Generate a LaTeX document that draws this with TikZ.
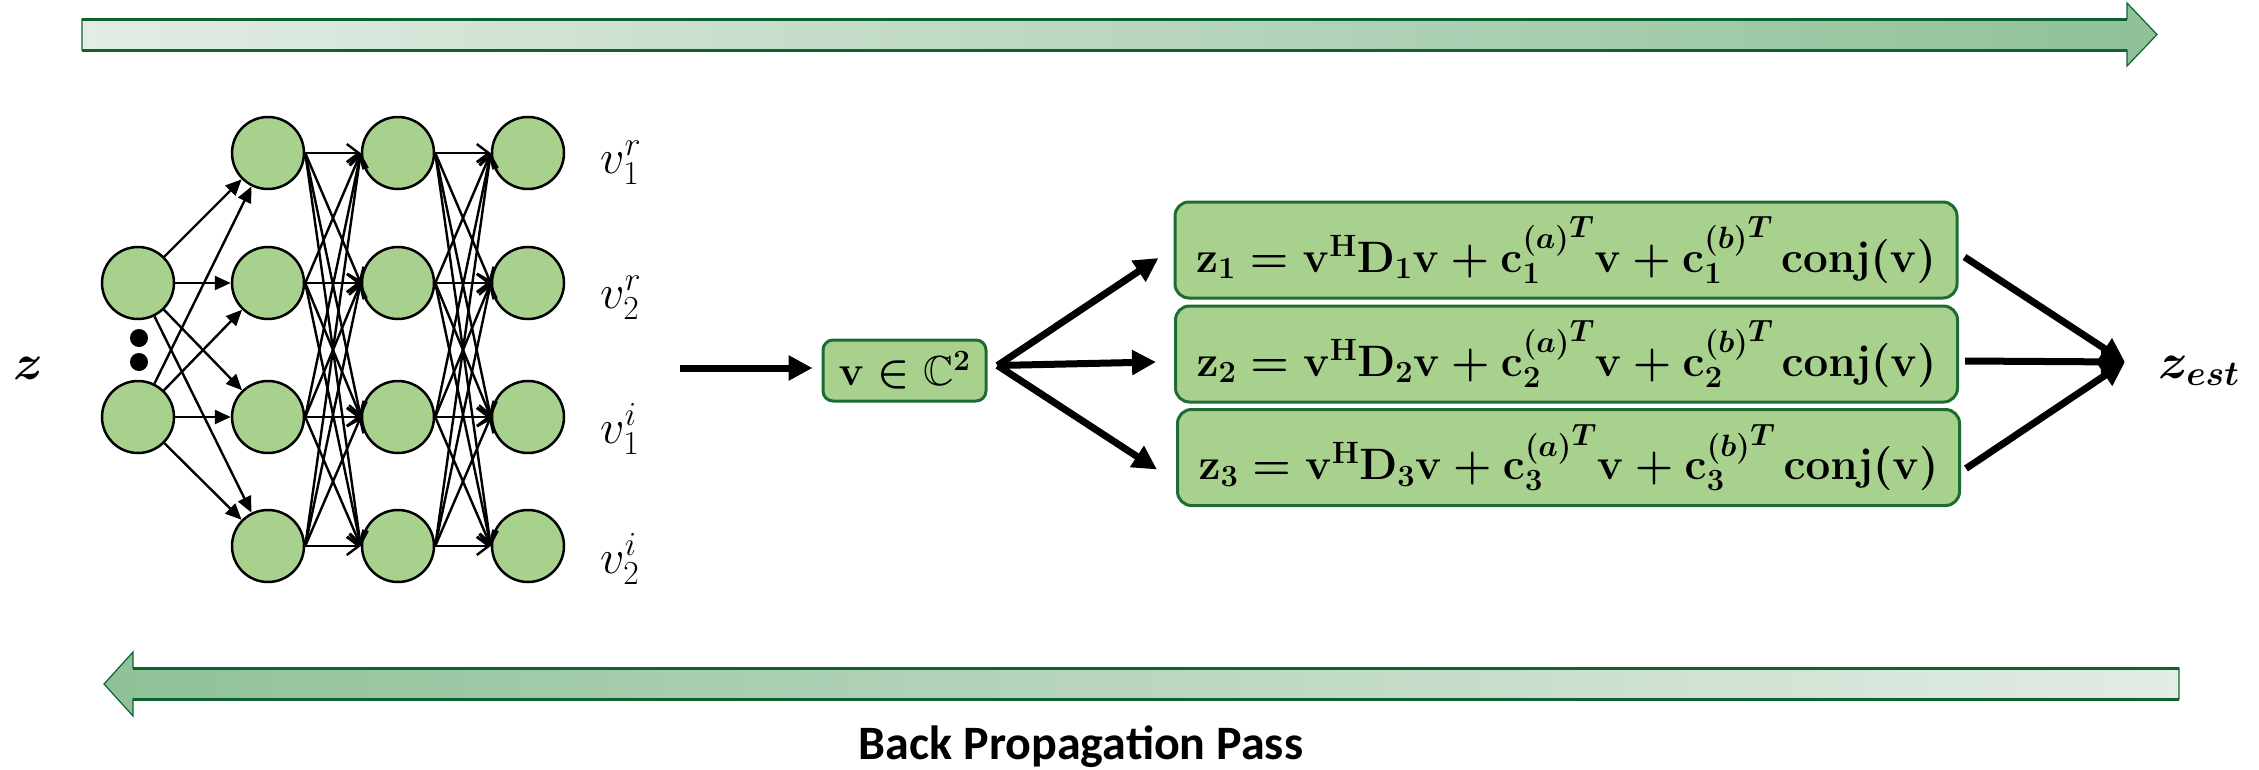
\RequirePackage{fix-cm}
\documentclass[tikz,border=0pt]{standalone}
\usepackage{amsmath,amssymb}
\usepackage[no-math]{fontspec}
\newfontfamily\captionfont{Carlito}
\usetikzlibrary{arrows.meta,calc}

\definecolor{nodegreen}{HTML}{A9D18E}
\definecolor{boxedge}{HTML}{1E6B33}
\definecolor{arrowedge}{HTML}{0E6230}
\definecolor{shadelight}{HTML}{E3ECE5}
\definecolor{shadedark}{HTML}{8FC198}

% one output component of the quadratic model
\newcommand{\quadform}[1]{$\mathbf{z}_{#1}=\mathbf{v}^{\mathrm{H}}\mathbf{D}_{#1}\mathbf{v}+{\mathbf{c}_{#1}^{(a)}}^{T}\mathbf{v}+{\mathbf{c}_{#1}^{(b)}}^{T}\,\mathrm{conj}(\mathbf{v})$}

\tikzset{
  neuron/.style={circle, draw=black, line width=2.5pt, fill=nodegreen,
    minimum size=72pt, inner sep=0pt},
  dotmark/.style={circle, fill=black, minimum size=18pt, inner sep=0pt},
  formbox/.style={draw=boxedge, line width=3pt, fill=nodegreen,
    rounded corners=14pt, minimum width=782pt, minimum height=96pt, inner sep=0pt,
    font=\boldmath\fontsize{44}{48}\selectfont},
  solidedge/.style={line width=2.4pt, -{Triangle[length=16pt,width=14pt]}},
  openedge/.style={line width=2.4pt, -{Straight Barb[length=12pt,width=18pt,line width=2.4pt]}},
  bigarrow/.style={line width=7pt, -{Triangle[length=24pt,width=24pt]}},
  outlabel/.style={anchor=base west, font=\fontsize{48}{52}\selectfont},
  bigsym/.style={font=\boldmath\fontsize{50}{54}\selectfont},
  passedge/.style={draw=arrowedge, line width=1.2pt, line join=miter},
  passrim/.style={draw=arrowedge, line width=3pt},
}

\begin{document}
\begin{tikzpicture}[x=1pt,y=-1pt]
\useasboundingbox (0,0) rectangle (2259,769);

% forward pass arrow
\shade[left color=shadelight, right color=shadedark]
  (82,19) -- (2127,19) -- (2127,3) -- (2157,34.5) -- (2127,66) -- (2127,50) -- (82,50) -- cycle;
\path[passedge] (82,19) -- (2127,19) -- (2127,3) -- (2157,34.5) -- (2127,66) -- (2127,50) -- (82,50) -- cycle;
\path[passrim] (82,19) -- (2127,19) (82,50) -- (2127,50);

% backward pass arrow
\shade[left color=shadedark, right color=shadelight]
  (2179,668) -- (133,668) -- (133,652) -- (104,684) -- (133,716) -- (133,699) -- (2179,699) -- cycle;
\path[passedge] (2179,668) -- (133,668) -- (133,652) -- (104,684) -- (133,716) -- (133,699) -- (2179,699) -- cycle;
\path[passrim] (2179,668) -- (133,668) (2179,699) -- (133,699);
\node[anchor=base, font=\captionfont\bfseries\fontsize{48}{52}\selectfont] (backpass) at (1081,759) {Back Propagation Pass};

% input
\node[bigsym] (zin) at (28,368) {$z$};

% network
\node[neuron] (i1) at (138,283) {};
\node[neuron] (i2) at (138,417) {};
\node[dotmark] (d1) at (139,338) {};
\node[dotmark] (d2) at (139,362) {};
\foreach \c/\x in {a/268,b/398,c/528}
  \foreach \r/\y in {1/153,2/283,3/417,4/546}
    \node[neuron] (\c\r) at (\x,\y) {};

\foreach \s in {i1,i2}
  \foreach \r in {1,...,4}
    \draw[solidedge] (\s) -- (a\r);
\foreach \s in {1,...,4}
  \foreach \t in {1,...,4} {
    \draw[openedge] (a\s.east) -- (b\t.west);
    \draw[openedge] (b\s.east) -- (c\t.west);
  }

\node[outlabel] (o1) at (597,173) {$v_1^r$};
\node[outlabel] (o2) at (597,308) {$v_2^r$};
\node[outlabel] (o3) at (597,443) {$v_1^i$};
\node[outlabel] (o4) at (597,573) {$v_2^i$};

% latent vector
\node[formbox, minimum width=163pt, minimum height=61pt, rounded corners=10pt,
  font=\boldmath\fontsize{42}{46}\selectfont] (vbox) at (904.5,370.5) {$\mathbf{v}\in\mathbb{C}^2$};
\coordinate (feed) at (680,368);
\draw[bigarrow, shorten >=9pt] (feed) -- (vbox.west |- feed);

% quadratic forms
\node[formbox] (f1) at (1566,250) {\quadform{1}};
\node[formbox] (f2) at (1566.5,354) {\quadform{2}};
\node[formbox] (f3) at (1568.5,457.5) {\quadform{3}};

\coordinate (fork) at ($(vbox.east)+(10,-5)$);
\draw[bigarrow] (fork) -- ($(f1.west)+(-15,8)$);
\draw[bigarrow] (fork) -- ($(f2.west)+(-18,8)$);
\draw[bigarrow] (fork) -- ($(f3.west)+(-19,12)$);

% estimate
\node[bigsym, anchor=base west] (zest) at (2155,378) {$z_{est}$};
\coordinate (merge) at (2125,362);
\draw[bigarrow] ($(f1.east)+(6,7)$) -- (merge);
\draw[bigarrow] ($(f2.east)+(6,7)$) -- (merge);
\draw[bigarrow] ($(f3.east)+(5,11)$) -- (merge);
\end{tikzpicture}
\end{document}
